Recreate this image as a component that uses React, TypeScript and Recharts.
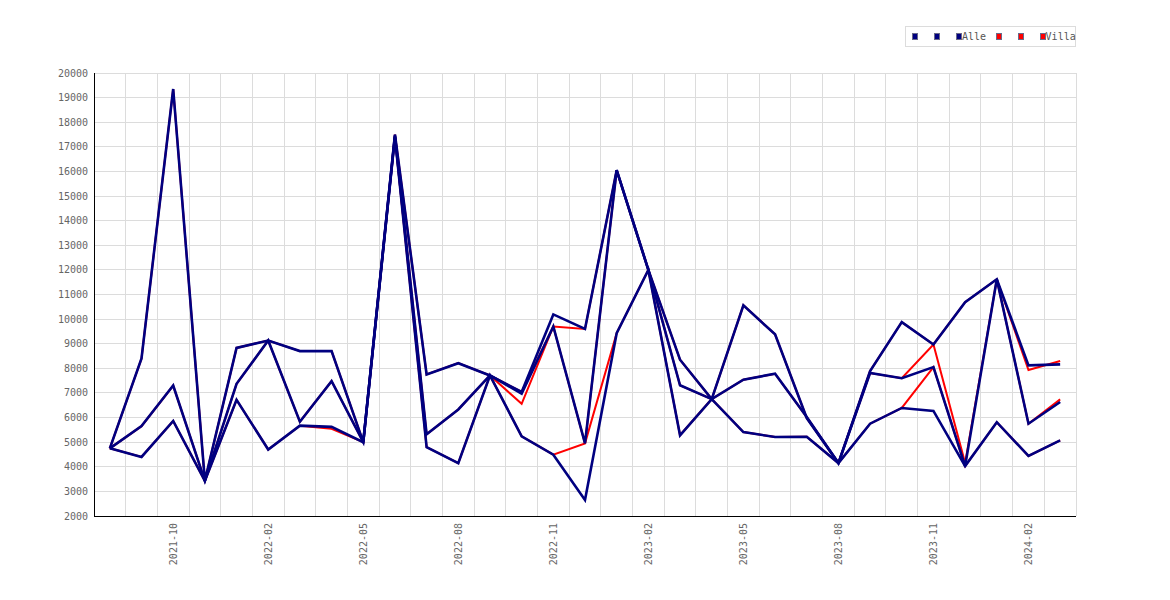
import { LineChart, Line, XAxis, YAxis, CartesianGrid } from "recharts";

// one point per month, index 0..30
const alleA = [4750, 8400, 19350, 3430, 8830, 9130, 8700, 8700, 5000, 17500, 7750, 8210, 7710, 7040, 10190, 9600, 16050, 12000, 8350, 6750, 10560, 9380, 5980, 4150, 7890, 9880, 8970, 10690, 11620, 8120, 8160];
const alleB = [4750, 5650, 7300, 3430, 7370, 9130, 5830, 7480, 5000, 17450, 5320, 6330, 7710, 6970, 9700, 4950, 16050, 12000, 7310, 6750, 7540, 7780, 6020, 4150, 7810, 7600, 8050, 4030, 11620, 5750, 6630];
const alleC = [4750, 4400, 5860, 3430, 6720, 4700, 5670, 5620, 5000, 17400, 4800, 4150, 7710, 5240, 4490, 2650, 9430, 12000, 5280, 6750, 5410, 5210, 5220, 4150, 5750, 6390, 6270, 4030, 5810, 4440, 5070];

const villaA = [4750, 8400, 19350, 3430, 8830, 9130, 8700, 8700, 5000, 17500, 7750, 8210, 7710, 7040, 9700, 9600, 16050, 12000, 8350, 6750, 10560, 9380, 5980, 4150, 7890, 9880, 8970, 10690, 11620, 7930, 8300];
const villaB = [4750, 5650, 7300, 3430, 7370, 9130, 5830, 7480, 5000, 17450, 5320, 6330, 7710, 6560, 9700, 4950, 16050, 12000, 7310, 6750, 7540, 7780, 6020, 4150, 7810, 7600, 8970, 4150, 11620, 5750, 6740];
const villaC = [4750, 4400, 5860, 3430, 6720, 4700, 5670, 5540, 5000, 17400, 4800, 4150, 7710, 5240, 4490, 4950, 9430, 12000, 5280, 6750, 5410, 5210, 5220, 4150, 5750, 6390, 8050, 4030, 5810, 4440, 5070];

const xTicks = [2, 5, 8, 11, 14, 17, 20, 23, 26, 29];
const xTickLabels = ["2021-10", "2022-02", "2022-05", "2022-08", "2022-11", "2023-02", "2023-05", "2023-08", "2023-11", "2024-02"];
const yTicks = [2000, 3000, 4000, 5000, 6000, 7000, 8000, 9000, 10000, 11000, 12000, 13000, 14000, 15000, 16000, 17000, 18000, 19000, 20000];

const NAVY = "#000080";
const RED = "#ff0000";
const FONT = "'DejaVu Sans Mono', monospace";

const legendItems = [
  { label: "", color: NAVY },
  { label: "", color: NAVY },
  { label: "Alle", color: NAVY },
  { label: "", color: RED },
  { label: "", color: RED },
  { label: "Villa", color: RED },
];

const data = alleA.map((_, i) => ({
  i,
  alleA: alleA[i], alleB: alleB[i], alleC: alleC[i],
  villaA: villaA[i], villaB: villaB[i], villaC: villaC[i],
}));

// grid lines sit between months
const gridX = Array.from({ length: alleA.length + 1 }, (_, k) => k - 0.5);

function XTick({ x, y, payload }: any) {
  const label = xTickLabels[xTicks.indexOf(payload.value)];
  return (
    <text x={x} y={y} transform={`rotate(-90, ${x}, ${y})`} textAnchor="end" dy="0.35em"
      fontSize={10} fontFamily={FONT} fill="#666">
      {label}
    </text>
  );
}

function LegendBox() {
  return (
    <div style={{
      position: "absolute", left: 905, top: 26,
      boxSizing: "border-box", width: 171, height: 21, border: "1px solid #dcdcdc",
      background: "#fff", display: "flex", alignItems: "center", paddingLeft: 6,
      fontFamily: FONT, fontSize: 10, color: "#555", whiteSpace: "nowrap",
    }}>
      {legendItems.map((it, k) => (
        <span key={k} style={{ display: "flex", alignItems: "center", marginRight: it.label ? (k === legendItems.length - 1 ? 0 : 9.5) : 16 }}>
          <span style={{ boxSizing: "border-box", width: 6, height: 7, background: it.color, border: "1px solid #6a6a8a" }} />
          {it.label && <span style={{ lineHeight: "10px" }}>{it.label}</span>}
        </span>
      ))}
    </div>
  );
}

const lineProps = { type: "linear" as const, dot: false, isAnimationActive: false };

export default function App() {
  return (
    <div style={{ position: "absolute", left: 0, top: 0, width: 1170, height: 600, background: "#fff" }}>
      <LineChart width={1170} height={600} data={data} margin={{ top: 73, right: 94, bottom: 0, left: 10 }}>
        <CartesianGrid stroke="#dcdcdc" verticalValues={gridX} shapeRendering="crispEdges" />
        <XAxis
          dataKey="i" type="number" domain={[-0.5, 30.5]} ticks={xTicks}
          height={84} tickLine={false} tickSize={0} tickMargin={7}
          axisLine={{ stroke: "#000", shapeRendering: "crispEdges" }} tick={<XTick />} interval={0}
        />
        <YAxis
          domain={[2000, 20000]} ticks={yTicks} width={84} interval={0}
          tickLine={false} tickSize={0} tickMargin={6}
          axisLine={{ stroke: "#000", shapeRendering: "crispEdges" }}
          tick={{ fontSize: 10, fontFamily: FONT, fill: "#666" }}
        />
        {/* Villa underneath, Alle on top (a touch wider so the red doesn't bleed through) */}
        <Line dataKey="villaA" name="villaA" stroke={RED} strokeWidth={2} {...lineProps} />
        <Line dataKey="villaB" name="villaB" stroke={RED} strokeWidth={2} {...lineProps} />
        <Line dataKey="villaC" name="Villa" stroke={RED} strokeWidth={2} {...lineProps} />
        <Line dataKey="alleA" name="alleA" stroke={NAVY} strokeWidth={2.6} {...lineProps} />
        <Line dataKey="alleB" name="alleB" stroke={NAVY} strokeWidth={2.6} {...lineProps} />
        <Line dataKey="alleC" name="Alle" stroke={NAVY} strokeWidth={2.6} {...lineProps} />
      </LineChart>
      <LegendBox />
    </div>
  );
}
